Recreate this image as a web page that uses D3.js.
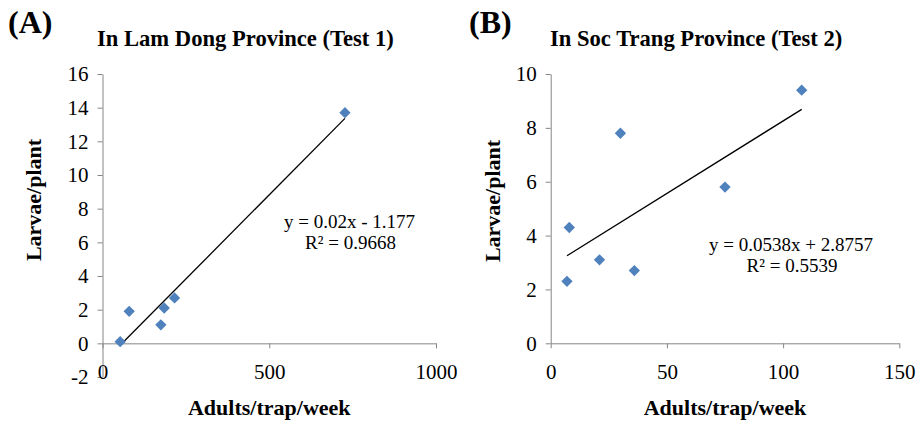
<!DOCTYPE html>
<html>
<head>
<meta charset="utf-8">
<script src="https://cdn.jsdelivr.net/npm/d3@7"></script>
<style>
  body { margin: 0; background: #fff; }
  svg text { font-family: "Liberation Serif", "Times New Roman", serif; }
  .axis path, .axis line { stroke: #868686; }
  .axis text { fill: #000; }
</style>
</head>
<body>
<svg id="chart" width="917" height="421"></svg>
<script>
// panel A - Lam Dong
const adultsA = [53, 80, 175, 185, 216, 727];
const larvaeA = [0.1, 1.9, 1.1, 2.1, 2.7, 13.7];
// panel B - Soc Trang
const adultsB = [7, 8, 21, 30, 36, 75, 108];
const larvaeB = [2.3, 4.3, 3.1, 7.8, 2.7, 5.8, 9.4];

const panelLetters = ["(A)", "(B)"];
const titles = ["In Lam Dong Province (Test 1)", "In Soc Trang Province (Test 2)"];
const slopes = [0.02, 0.0538];
const intercepts = [-1.177, 2.8757];
const equations = ["y = 0.02x - 1.177", "y = 0.0538x + 2.8757"];
const rSquared = ["R² = 0.9668", "R² = 0.5539"];

const xTicksA = [0, 500, 1000];
const yTicksA = [-2, 0, 2, 4, 6, 8, 10, 12, 14, 16];
const xTicksB = [0, 50, 100, 150];
const yTicksB = [0, 2, 4, 6, 8, 10];

const svg = d3.select("#chart");
const blue = "#4F81BD";
const serif = "Liberation Serif";

function drawPanel(p) {
  let g = svg.append("g");
  let x = d3.scaleLinear().domain(p.xDomain).range(p.xRange);
  let y = d3.scaleLinear().domain(p.yDomain).range(p.yRange);

  // y axis
  g.append("g").attr("class", "axis")
    .attr("transform", `translate(${p.xRange[0]},0)`)
    .call(d3.axisLeft(y).tickValues(p.yTicks).tickSize(5).tickSizeOuter(0).tickPadding(9).tickFormat(d => String(d)))
    .attr("font-family", serif).attr("font-size", 21);

  // x axis sits at y = 0, labels pushed down to the bottom
  g.append("g").attr("class", "axis")
    .attr("transform", `translate(0,${y(0)})`)
    .call(d3.axisBottom(x).tickValues(p.xTicks).tickSize(5).tickSizeOuter(0).tickPadding(p.xLabelPad).tickFormat(d => String(d)))
    .attr("font-family", serif).attr("font-size", 21);

  // trendline over the data range
  let xs = d3.extent(p.xs);
  g.append("path")
    .attr("fill", "none").attr("stroke", "#000").attr("stroke-width", 1.3)
    .attr("d", d3.line()(xs.map(v => [x(v), y(p.slope * v + p.intercept)])));

  // diamond markers
  g.selectAll(".pt").data(p.xs.map((v, i) => [v, p.ys[i]]))
    .enter().append("path")
    .attr("class", "pt")
    .attr("d", d3.symbol(d3.symbolSquare, 64))
    .attr("fill", blue)
    .attr("transform", d => `translate(${x(d[0])},${y(d[1])}) rotate(45)`);

  // equation
  let eq = g.append("text").attr("text-anchor", "middle")
    .attr("font-family", serif).attr("font-size", 19);
  eq.append("tspan").attr("x", p.eqX).attr("y", p.eqY).text(p.eq);
  eq.append("tspan").attr("x", p.eqX + 1).attr("y", p.eqY + 21).text(p.r2);

  // titles
  g.append("text").attr("x", p.letterX).attr("y", 33)
    .attr("font-family", serif).attr("font-size", 32).attr("font-weight", "bold").text(p.letter);
  g.append("text").attr("x", p.titleX).attr("y", 46)
    .attr("font-family", serif).attr("font-size", 22.6).attr("font-weight", "bold").text(p.title);

  g.append("text").attr("x", (p.xRange[0] + p.xRange[1]) / 2).attr("y", 415)
    .attr("text-anchor", "middle").attr("font-family", serif).attr("font-size", 22).attr("font-weight", "bold")
    .text("Adults/trap/week");
  g.append("text")
    .attr("transform", `translate(${p.yLabelX},${p.yLabelY}) rotate(-90)`)
    .attr("text-anchor", "middle").attr("font-family", serif).attr("font-size", 22).attr("font-weight", "bold")
    .text("Larvae/plant");
}

drawPanel({
  xs: adultsA, ys: larvaeA,
  xDomain: [0, 1000], xRange: [102.5, 436],
  yDomain: [-2, 16], yRange: [377, 74],
  xTicks: xTicksA, yTicks: yTicksA, xLabelPad: 16,
  slope: slopes[0], intercept: intercepts[0],
  eq: equations[0], r2: rSquared[0], eqX: 349.5, eqY: 228,
  letter: panelLetters[0], letterX: 8, title: titles[0], titleX: 97,
  yLabelX: 41, yLabelY: 200
});

drawPanel({
  xs: adultsB, ys: larvaeB,
  xDomain: [0, 150], xRange: [550.7, 899.3],
  yDomain: [0, 10], yRange: [343.3, 74],
  xTicks: xTicksB, yTicks: yTicksB, xLabelPad: 16,
  slope: slopes[1], intercept: intercepts[1],
  eq: equations[1], r2: rSquared[1], eqX: 791, eqY: 251,
  letter: panelLetters[1], letterX: 469, title: titles[1], titleX: 550,
  yLabelX: 500, yLabelY: 201
});
</script>
</body>
</html>
